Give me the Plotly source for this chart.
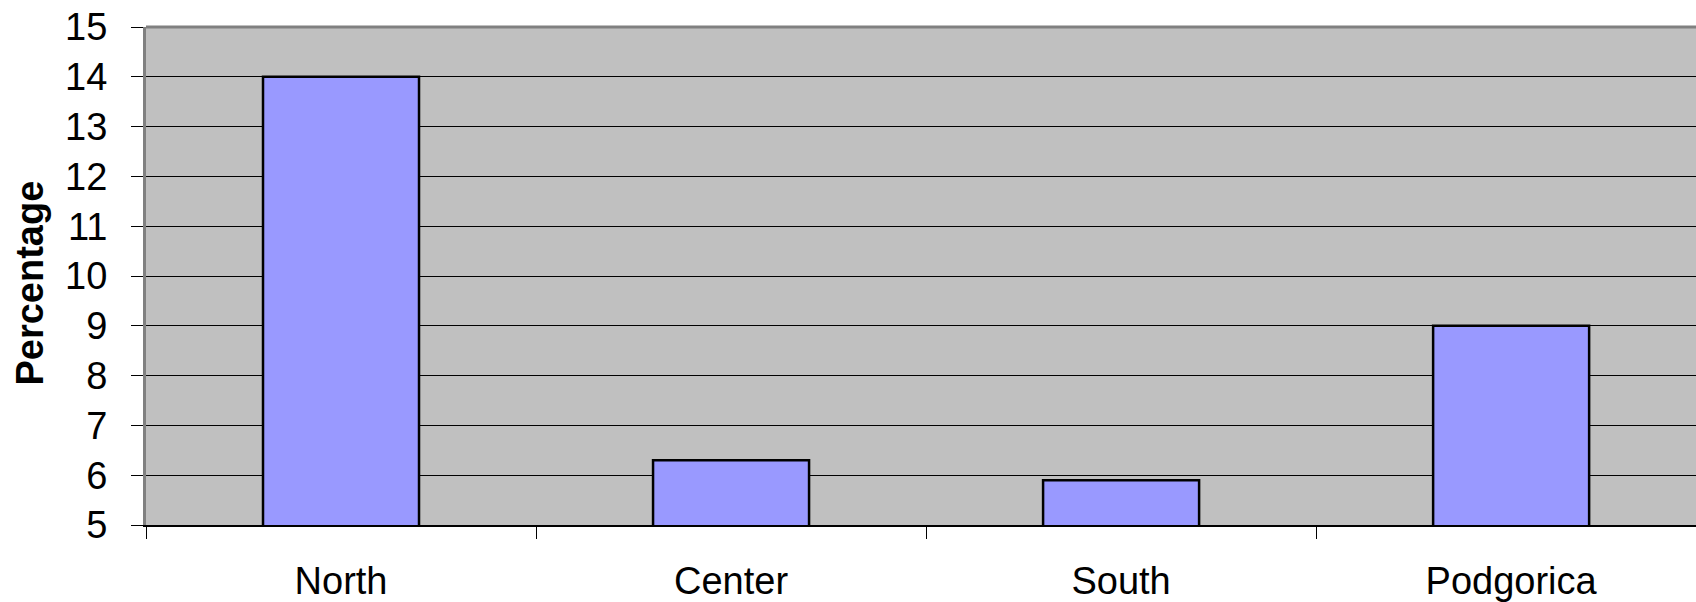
import plotly.graph_objects as go

# Regional percentages
regions = ["North", "Center", "South", "Podgorica"]
percentages = [14.0, 6.3, 5.9, 9.0]
y_ticks = list(range(5, 16))

FONT = "Liberation Sans, Arial, sans-serif"

fig = go.Figure(
    go.Bar(
        x=regions,
        y=percentages,
        width=0.4,
        marker=dict(color="#9999FF", line=dict(color="#000000", width=2.5)),
        hoverinfo="x+y",
    )
)

fig.update_layout(
    width=1696,
    height=602,
    margin=dict(l=146, r=0, t=27, b=77, autoexpand=False),
    paper_bgcolor="#FFFFFF",
    plot_bgcolor="#C0C0C0",
    showlegend=False,
    font=dict(family=FONT, size=38, color="#000000"),
    bargap=0.6,
)

fig.update_xaxes(
    type="category",
    range=[-0.5, 3.474],
    tickson="boundaries",
    ticks="outside",
    ticklen=12,
    tickwidth=1,
    tickcolor="#000000",
    showgrid=False,
    showline=True,
    linecolor="#000000",
    linewidth=2,
    ticklabelstandoff=21,
    automargin=False,
    tickfont=dict(family=FONT, size=38, color="#000000"),
)

fig.update_yaxes(
    range=[5, 15],
    tickvals=y_ticks,
    ticktext=[str(v) for v in y_ticks],
    ticks="outside",
    ticklen=12,
    tickwidth=1,
    tickcolor="#000000",
    showgrid=True,
    gridcolor="#000000",
    gridwidth=1,
    zeroline=False,
    showline=True,
    linecolor="#808080",
    linewidth=3,
    ticklabelstandoff=16,
    automargin=False,
    tickfont=dict(family=FONT, size=38, color="#000000"),
)

# Plot-area top border
fig.add_shape(
    type="line", xref="paper", yref="paper",
    x0=0, x1=1, y0=1, y1=1,
    line=dict(color="#808080", width=3),
)

# Vertical axis title
fig.add_annotation(
    text="<b>Percentage</b>",
    xref="paper", yref="paper",
    x=-0.0748, y=0.485,
    xanchor="center", yanchor="middle",
    textangle=-90,
    showarrow=False,
    font=dict(family=FONT, size=38, color="#000000"),
)

fig.write_html("out.html")
